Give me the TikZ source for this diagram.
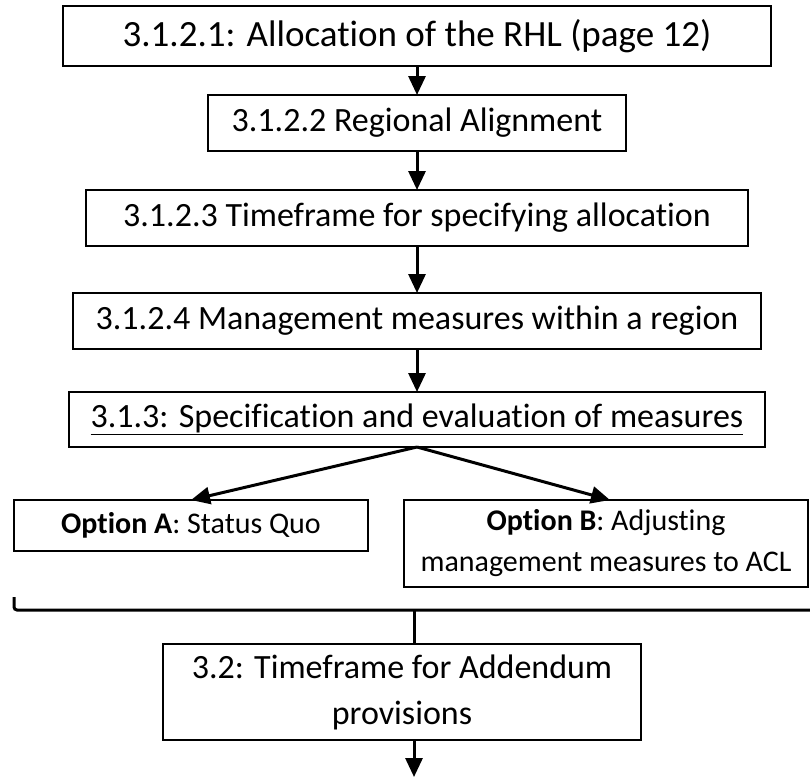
\documentclass[tikz,border=0pt]{standalone}
\usepackage{fontspec}
\setmainfont{Carlito}[Ligatures={NoCommon}]
\usepackage{tikz}
\usetikzlibrary{arrows.meta}
\pgfkeys{tikz/stepbox/.style={draw, 
                                  line width=1.2pt, 
                                  inner sep=0pt, 
                                  outer sep=0pt, 
                                  align=center, 
                                  minimum height=56pt, 
                                  font=\fontsize{34}{41}\selectfont}}
\pgfkeys{tikz/optionbox/.style={stepbox, 
                                    font=\fontsize{30}{41}\selectfont}}
\pgfkeys{tikz/steparrow/.style={line width=3pt, 
                                    -{Triangle[length=19pt,width=17pt]}}}
\begin{document}
\begin{tikzpicture}[x=1pt,y=-1pt]
                    \useasboundingbox (0,0) rectangle (810,777);
                    \node [stepbox,minimum width=708pt,minimum height=60pt,font=\fontsize{37}{44}\selectfont] (alloc) at (417,36) {3.1.2.1: Allocation of the RHL (page 12)};
                    \node [stepbox,minimum width=418pt] (region) at (417,123) {3.1.2.2 Regional Alignment};
                    \node [stepbox,minimum width=662pt] (timeframe) at (417,218) {3.1.2.3 Timeframe for specifying allocation};
                    \node [stepbox,minimum width=688pt] (manage) at (417,321) {3.1.2.4 Management measures within a region};
                    \node [stepbox,minimum width=696pt,minimum height=55pt] (spec) at (417,419.5) {\underline{3.1.3: Specification and evaluation of measures}};
                    \node [optionbox,minimum width=354pt,minimum height=51pt] (optA) at (191,525.5) {\textbf{Option A}: Status Quo};
                    \node [optionbox,minimum width=404pt,minimum height=87pt] (optB) at (606,543.5) {\textbf{Option B}: Adjusting\\management measures to ACL};
                    \node [stepbox,minimum width=478pt,minimum height=96pt,font=\fontsize{34}{46}\selectfont] (addendum) at (402,692) {3.2: Timeframe for Addendum\\provisions};
                    \coordinate (brtop) at (14,597);
                    \coordinate (brcorner) at (14,610);
                    \coordinate (brend) at (814,610);
                    \coordinate (brmid) at (414,610);
                    \coordinate (out) at (414,777);
                        \draw [steparrow] (alloc) -- (region);
                        \draw [steparrow] (region) -- (timeframe);
                        \draw [steparrow] (timeframe) -- (manage);
                        \draw [steparrow] (manage) -- (spec);
                        \draw [steparrow] (spec.south) -- (optA.north);
                        \draw [steparrow] (spec.south) -- ([xshift=4pt]optB.north);
                        \draw [line width=3pt,rounded corners=3pt] (brtop) -- (brcorner) -- (brend);
                        \draw [line width=3pt] (brmid) -- (brmid |- addendum.north);
                        \draw [steparrow] (addendum.south -| out) -- (out);
                \end{tikzpicture}
\end{document}
